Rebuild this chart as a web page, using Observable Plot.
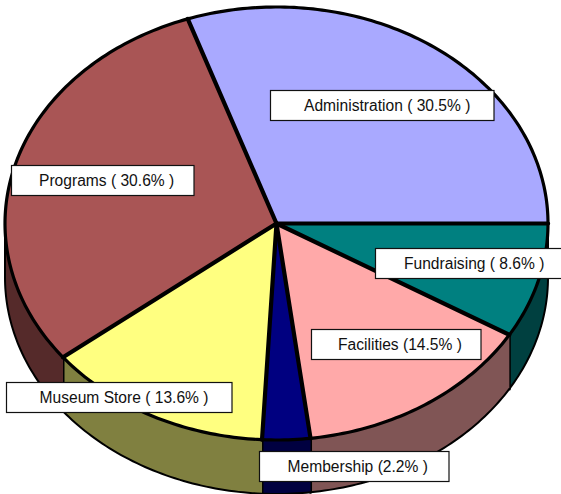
<!DOCTYPE html>
<html>
<head>
<meta charset="utf-8">
<script src="https://cdn.jsdelivr.net/npm/d3@7"></script>
<script src="https://cdn.jsdelivr.net/npm/@observablehq/plot@0.6"></script>
<style>
html,body{margin:0;padding:0;background:#fff;overflow:hidden}
svg{display:block}
</style>
</head>
<body>
<div id="chart"></div>
<script>
// Slices, clockwise from 3 o'clock
const categories = ["Fundraising", "Facilities", "Membership", "Museum Store", "Programs", "Administration"];
const labels = ["Fundraising ( 8.6% )", "Facilities (14.5% )", "Membership (2.2% )", "Museum Store ( 13.6% )", "Programs ( 30.6% )", "Administration ( 30.5% )"];
// Share of the ellipse each slice occupies as drawn in the picture
const shares = [8.6, 14.4, 2.85, 13.55, 30.3, 30.3];
const topColors = ["#008080", "#FFA9A9", "#000080", "#FFFF80", "#A95555", "#A9A9FF"];
const sideColors = ["#004040", "#805555", "#000040", "#808040", "#552A2A", "#555580"];

// Layout
const W = 561, H = 494;
const pie = {cx: 276, cy: 223, rx: 271.5, ry: 216.5, depth: 54};
const boxLeft = [375.5, 311.5, 259.5, 6.5, 11.5, 270.5];
const boxRight = [566, 481, 449, 232, 194, 494];
const boxTop = [248.5, 329.5, 451.5, 382.5, 165.5, 90.5];
const boxHeight = 30;
const textLeft = [403.5, 337.5, 287, 39, 38.5, 303.5];

const pt = (deg, dz = 0) => {
  const a = deg * Math.PI / 180;
  return {x: pie.cx + pie.rx * Math.cos(a), y: pie.cy + pie.ry * Math.sin(a) + dz};
};
const arc = (a0, a1, dz = 0) => {
  const n = Math.max(2, Math.ceil(Math.abs(a1 - a0)));
  return d3.range(n + 1).map(i => pt(a0 + (a1 - a0) * i / n, dz));
};

let start = 0;
const slices = shares.map((s, i) => {
  const a0 = start, a1 = start + s * 3.6;
  start = a1;
  return {i, a0, a1};
});

const marks = [];
// Extruded rim of the front half
for (const {i, a0, a1} of slices) {
  if (a0 >= 180) continue;
  const b1 = Math.min(a1, 180);
  const poly = [...arc(a0, b1), ...arc(b1, a0, pie.depth)];
  poly.push(poly[0]);
  marks.push(Plot.line(poly, {x: "x", y: "y", fill: sideColors[i], stroke: "none"}));
  marks.push(Plot.line(arc(a0, b1, pie.depth), {x: "x", y: "y", stroke: "black", strokeWidth: 2}));
  if (a1 < 180) {
    marks.push(Plot.line([pt(a1), pt(a1, pie.depth)], {x: "x", y: "y", stroke: "black", strokeWidth: 3}));
  }
}
for (const deg of [0, 180]) {
  marks.push(Plot.line([pt(deg), pt(deg, pie.depth)], {x: "x", y: "y", stroke: "black", strokeWidth: 2}));
}
// Top face
const c = {x: pie.cx, y: pie.cy};
for (const {i, a0, a1} of slices) {
  marks.push(Plot.line([c, ...arc(a0, a1), c], {x: "x", y: "y", fill: topColors[i], stroke: "none"}));
}
for (const {a0, a1} of slices) {
  marks.push(Plot.line(arc(a0, a1), {x: "x", y: "y", stroke: "black", strokeWidth: 3.2}));
}
for (const {a0} of slices) {
  marks.push(Plot.line([c, pt(a0)], {x: "x", y: "y", stroke: "black", strokeWidth: 4.2, strokeLinecap: "round"}));
}
// Label boxes
const table = categories.map((name, i) => ({
  name, label: labels[i],
  x1: boxLeft[i], x2: boxRight[i], y1: boxTop[i], y2: boxTop[i] + boxHeight, tx: textLeft[i]
}));
marks.push(Plot.rect(table, {x1: "x1", x2: "x2", y1: "y1", y2: "y2", fill: "white", stroke: "#111", strokeWidth: 1.2}));
marks.push(Plot.text(table, {
  x: "tx", y: d => d.y1 + boxHeight / 2, text: "label", textAnchor: "start",
  fontFamily: "Liberation Sans", fontSize: 15.6, fill: "#111", lineAnchor: "middle"
}));

const chart = Plot.plot({
  width: W, height: H, margin: 0,
  x: {domain: [0, W], range: [0, W], axis: null},
  y: {domain: [0, H], range: [0, H], axis: null},
  style: {background: "white"},
  marks
});
document.getElementById("chart").append(chart);
</script>
</body>
</html>
